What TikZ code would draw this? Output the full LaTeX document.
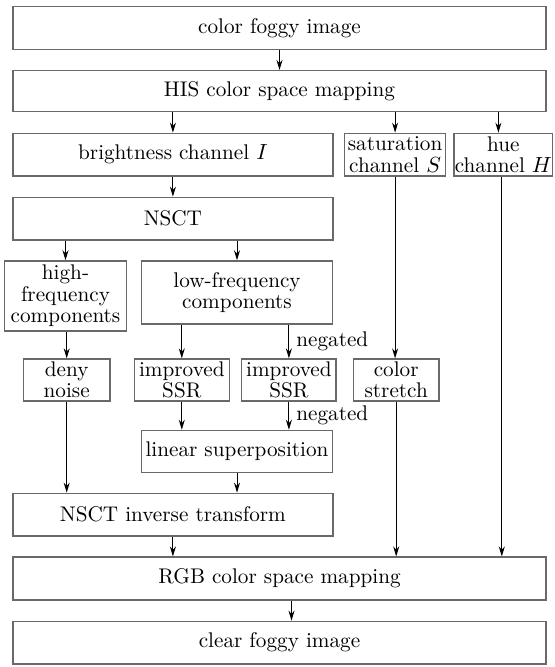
\documentclass[tikz,border=0pt]{standalone}
\usepackage{amsmath}
\usepackage{tikz}
\usetikzlibrary{arrows.meta}
\definecolor{framegray}{RGB}{105,105,105}
\tikzset{
  box/.style={draw=framegray, line width=0.75pt, inner sep=0pt, align=center,
    font=\fontsize{10.6}{10.6}\selectfont},
  wide/.style={box, minimum width=266.5pt, minimum height=21.3pt},
  half/.style={box, minimum width=159.9pt, minimum height=21.3pt},
  flow/.style={->, line width=0.5pt},
  negnote/.style={right, xshift=1.5pt, inner sep=2pt, font=\fontsize{10.6}{10.6}\selectfont}
}
\begin{document}
\begin{tikzpicture}[>={Stealth[length=5pt,width=3pt]}, x=0.5pt, y=-0.5pt]
\useasboundingbox (0,0) rectangle (554,667);
% main column
\node[wide] (img) at (279.5,28) {color foggy image};
\node[wide, minimum height=20.5pt] (his) at (279.5,91.2) {HIS color space mapping};
\node[half] (bright) at (172.9,154.7) {brightness channel $I$};
\node[box, minimum width=50.6pt, minimum height=21.3pt] (sat) at (395.1,154.7) {saturation\\channel $S$};
\node[box, minimum width=49.3pt, minimum height=21.3pt] (hue) at (503.4,154.7) {hue\\channel $H$};
\node[half] (nsct) at (172.9,218.7) {NSCT};
% frequency split
\node[box, minimum width=61.2pt, minimum height=34.9pt] (high) at (65.5,295.9) {high-\\frequency\\components};
\node[box, minimum width=95.7pt, minimum height=31.5pt] (low) at (237,292.5) {low-frequency\\components};
\node[box, minimum width=43.4pt, minimum height=20.9pt] (deny) at (66.7,380) {deny\\noise};
\node[box, minimum width=47.5pt, minimum height=20.9pt] (ssr1) at (181.8,380) {improved\\SSR};
\node[box, minimum width=47.2pt, minimum height=20.9pt] (ssr2) at (288.9,380) {improved\\SSR};
\node[box, minimum width=42.9pt, minimum height=20.9pt] (stretch) at (396.2,380) {color\\stretch};
\node[box, minimum width=95.7pt, minimum height=21pt] (lin) at (237,451.5) {linear superposition};
\node[half] (inv) at (172.9,514.7) {NSCT inverse transform};
\node[wide] (rgb) at (279.5,578.5) {RGB color space mapping};
\node[wide] (clear) at (279.5,642.7) {clear foggy image};

\draw[flow] (img) -- (his);
\draw[flow] (his.south -| bright.north) -- (bright.north);
\draw[flow] (his.south -| sat.north) -- (sat.north);
\draw[flow] ([xshift=-2.5pt]hue.north |- his.south) -- ([xshift=-2.5pt]hue.north);
\draw[flow] (bright) -- (nsct);
\draw[flow] (nsct.south -| high.north) -- (high.north);
\draw[flow] (nsct.south -| low.north) -- (low.north);
\draw[flow] (high.south -| deny.north) -- (deny.north);
\draw[flow] (low.south -| ssr1.north) -- (ssr1.north);
\draw[flow] (low.south -| ssr2.north) -- (ssr2.north) node[negnote, midway] {negated};
\draw[flow] (sat.south) -- (sat.south |- stretch.north);
\draw[flow] (ssr1.south) -- (ssr1.south |- lin.north);
\draw[flow] (ssr2.south) -- (ssr2.south |- lin.north) node[negnote, midway] {negated};
\draw[flow] (deny.south) -- (deny.south |- inv.north);
\draw[flow] (lin.south) -- (lin.south |- inv.north);
\draw[flow] (inv.south) -- (inv.south |- rgb.north);
\draw[flow] (stretch.south) -- (stretch.south |- rgb.north);
\draw[flow] ([xshift=-0.8pt]hue.south) -- ([xshift=-0.8pt]hue.south |- rgb.north);
\draw[flow] ([xshift=6pt]rgb.south) -- ([xshift=6pt]clear.north);
\end{tikzpicture}
\end{document}
